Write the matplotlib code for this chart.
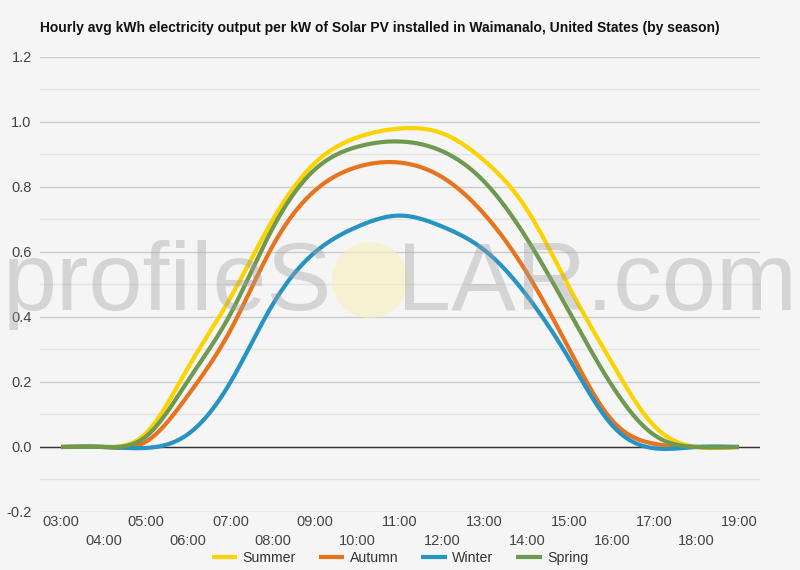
import numpy as np
import matplotlib.pyplot as plt
from matplotlib.patches import Circle

plt.rcParams['font.family'] = ['Liberation Sans', 'DejaVu Sans']

hours = list(range(3, 20))
hour_labels = ['%02d:00' % h for h in hours]

summer = [0, 0, 0.042, 0.245, 0.46, 0.70, 0.875, 0.953, 0.98, 0.965, 0.88, 0.73, 0.49, 0.26, 0.065, 0.0, 0]
autumn = [0, 0, 0.016, 0.16, 0.36, 0.62, 0.79, 0.862, 0.875, 0.83, 0.715, 0.535, 0.30, 0.083, 0.01, 0, 0]
winter = [0, 0, -0.003, 0.04, 0.20, 0.44, 0.60, 0.678, 0.712, 0.678, 0.605, 0.465, 0.27, 0.068, -0.004, 0, 0]
spring = [0, 0, 0.032, 0.205, 0.41, 0.675, 0.855, 0.924, 0.94, 0.91, 0.815, 0.64, 0.415, 0.19, 0.037, 0, 0]

series = [('Summer', summer, '#fcd200'),
          ('Autumn', autumn, '#e8731f'),
          ('Winter', winter, '#2594c4'),
          ('Spring', spring, '#6e9a4f')]


def smooth(x, y, n=400):
    # natural cubic spline through the hourly points
    x = np.asarray(x, float)
    y = np.asarray(y, float)
    m = len(x)
    h = np.diff(x)
    A = np.zeros((m, m))
    b = np.zeros(m)
    A[0, 0] = A[-1, -1] = 1
    for i in range(1, m - 1):
        A[i, i - 1] = h[i - 1]
        A[i, i] = 2 * (h[i - 1] + h[i])
        A[i, i + 1] = h[i]
        b[i] = 6 * ((y[i + 1] - y[i]) / h[i] - (y[i] - y[i - 1]) / h[i - 1])
    M = np.linalg.solve(A, b)
    xs = np.linspace(x[0], x[-1], n)
    k = np.clip(np.searchsorted(x, xs) - 1, 0, m - 2)
    t0 = x[k + 1] - xs
    t1 = xs - x[k]
    hk = h[k]
    ys = (M[k] * t0 ** 3 / (6 * hk) + M[k + 1] * t1 ** 3 / (6 * hk)
          + (y[k] / hk - M[k] * hk / 6) * t0 + (y[k + 1] / hk - M[k + 1] * hk / 6) * t1)
    return xs, ys


fig = plt.figure(figsize=(8, 5.7), dpi=100)
fig.patch.set_facecolor('#f5f5f5')
ax = fig.add_axes([0.05, 0.1018, 0.9, 0.7982])
ax.set_facecolor('#f5f5f5')

ax.set_xlim(2.5, 19.5)
ax.set_ylim(-0.2, 1.2)
ax.set_yticks(np.arange(-0.2, 1.21, 0.2))
ax.set_yticks(np.arange(-0.1, 1.2, 0.2), minor=True)
ax.set_yticklabels(['%.1f' % v for v in np.arange(-0.2, 1.21, 0.2)])
ax.grid(axis='y', which='major', color='#cccccc', lw=1)
ax.grid(axis='y', which='minor', color='#e2e2e2', lw=1)
ax.axhline(0, color='#333333', lw=1, zorder=2)
for s in ax.spines.values():
    s.set_visible(False)

ax.set_xticks(hours[::2], hour_labels[::2])
ax.set_xticks(hours[1::2], hour_labels[1::2], minor=True)
ax.tick_params(axis='x', which='major', length=0, pad=2.0, labelsize=10.5, labelcolor='#444444')
ax.tick_params(axis='x', which='minor', length=0, pad=16.0, labelsize=10.5, labelcolor='#444444')
ax.tick_params(axis='y', which='both', length=0, pad=6, labelsize=10.5, labelcolor='#444444')

for name, vals, col in series:
    xs, ys = smooth(hours, vals)
    ax.plot(xs, ys, color=col, lw=3, label=name, zorder=3, solid_capstyle='butt')

# watermark
wm = dict(fontsize=70, color='#a0a0a0', alpha=0.38, va='center', zorder=10)
fig.text(0.004, 1 - 285 / 570, 'profileS', ha='left', **wm)
fig.text(0.996, 1 - 285 / 570, 'LAR.com', ha='right', **wm)
fig.patches.append(Circle((370, 570 - 280), 38, transform=None,
                          facecolor='#f8efbc', alpha=0.6, edgecolor='none', zorder=9))

fig.text(0.05, 1 - 28 / 570,
         'Hourly avg kWh electricity output per kW of Solar PV installed in Waimanalo, United States (by season)',
         fontsize=10, fontweight='bold', color='#111111', va='center')

fig.legend(loc='center', bbox_to_anchor=(0.5, 1 - 558 / 570), ncol=4, frameon=False,
           fontsize=10.2, handlelength=1.8, columnspacing=1.6, handletextpad=0.4,
           labelcolor='#333333')

fig.savefig('out.png', dpi=100, facecolor=fig.get_facecolor())
